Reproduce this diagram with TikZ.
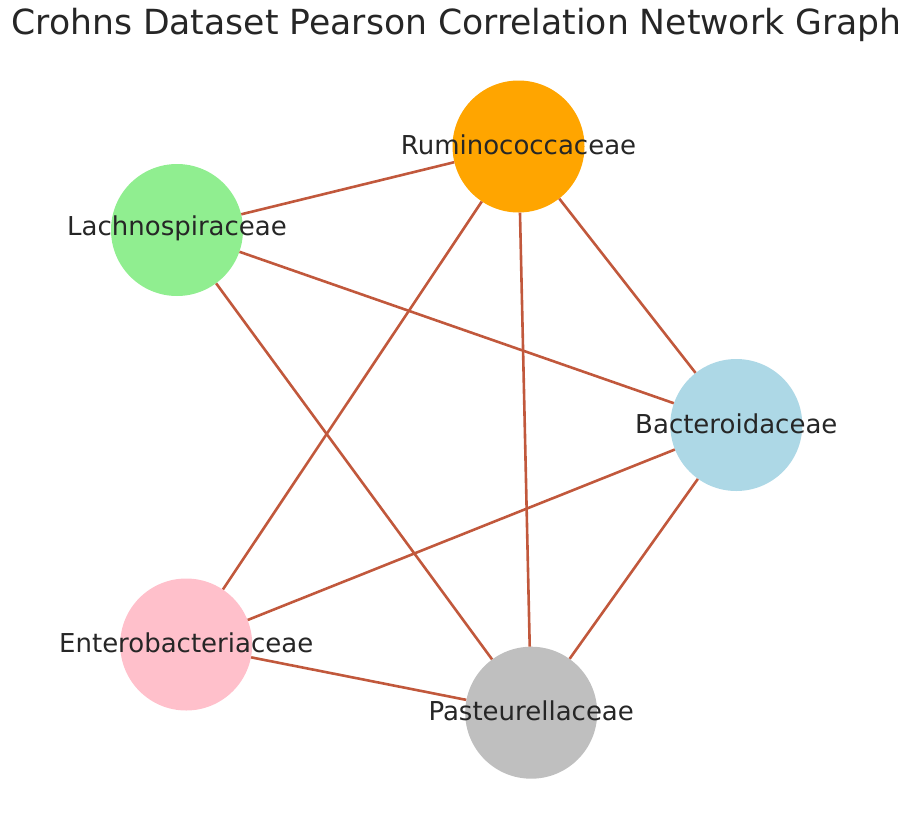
\documentclass[tikz,border=0pt]{standalone}
\usepackage{fontspec}
\setmainfont{DejaVu Sans}
\usepackage{xcolor}
\usepackage{tikz}
\usetikzlibrary{positioning,shapes.geometric}

\definecolor{edgecol}{RGB}{193,88,60}
\definecolor{textcol}{RGB}{38,38,38}
\definecolor{rumicol}{RGB}{255,165,0}
\definecolor{lachcol}{RGB}{144,238,144}
\definecolor{bactcol}{RGB}{173,216,230}
\definecolor{entecol}{RGB}{255,192,203}
\definecolor{pastcol}{RGB}{191,191,191}

\begin{document}
\begin{tikzpicture}[x=1pt,y=-1pt,
taxon/.style={circle,inner sep=0pt,minimum size=132pt},
taxlabel/.style={text=textcol,inner sep=0pt,yshift=1.5pt,font=\fontsize{26}{30}\selectfont},
link/.style={-,line width=2.6pt,edgecol}]
\useasboundingbox (0,0) rectangle (913,825);

\node (Titel) [text=textcol,font=\fontsize{34.6}{40}\selectfont] at (456.5,25) {Crohns Dataset Pearson Correlation Network Graph};

\node (Rumi) [taxon,fill=rumicol] at (518.5,146.5) {};
\node (Lach) [taxon,fill=lachcol] at (177,230) {};
\node (Bact) [taxon,fill=bactcol] at (736.3,425) {};
\node (Ente) [taxon,fill=entecol] at (186.2,644.5) {};
\node (Past) [taxon,fill=pastcol] at (531.2,712.7) {};

\draw[link] (Lach)--(Rumi);
\draw[link] (Lach)--(Bact);
\draw[link] (Lach)--(Past);
\draw[link] (Rumi)--(Ente);
\draw[link] (Rumi)--(Past);
\draw[link] (Rumi)--(Bact);
\draw[link] (Bact)--(Ente);
\draw[link] (Bact)--(Past);
\draw[link] (Ente)--(Past);

\node (RumiText) [taxlabel] at (Rumi) {Ruminococcaceae};
\node (LachText) [taxlabel] at (Lach) {Lachnospiraceae};
\node (BactText) [taxlabel] at (Bact) {Bacteroidaceae};
\node (EnteText) [taxlabel] at (Ente) {Enterobacteriaceae};
\node (PastText) [taxlabel] at (Past) {Pasteurellaceae};

\end{tikzpicture}
\end{document}
